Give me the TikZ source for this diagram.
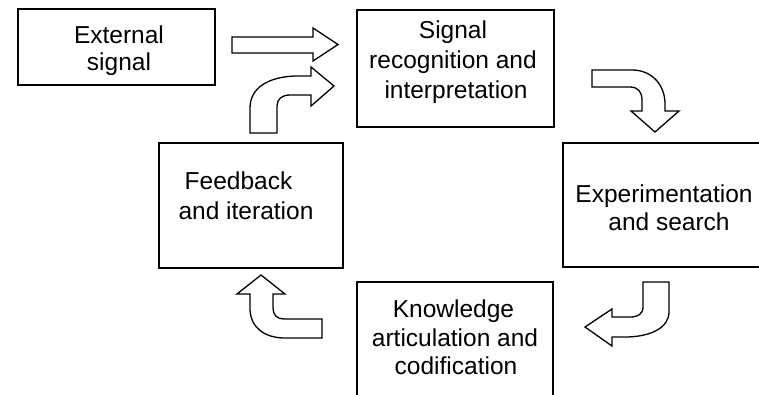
\documentclass[tikz,border=0pt]{standalone}
\usepackage{fontspec}
\setmainfont{Liberation Sans}
\begin{document}
\begin{tikzpicture}[x=1pt,y=-1pt,
  box/.style={draw=black,line width=1.5pt},
  blockarrow/.style={draw=black,fill=white,line width=1.3pt,line join=miter},
  txt/.style={inner sep=0pt,anchor=base,font=\fontsize{24.5}{29}\selectfont}]
\useasboundingbox[fill=white] (0,0) rectangle (759,394);
\begin{scope}
\clip (0,0) rectangle (759,394);
% boxes
\draw[box] (18,9) rectangle (215,85);
\coordinate (ext) at (116.5,47);
\draw[box] (357,10) rectangle (554,127);
\coordinate (sig) at (455.5,68.5);
\draw[box] (563,143) rectangle (790,267);
\coordinate (exp) at (676,205);
\draw[box] (357,282) rectangle (553,430);
\coordinate (kno) at (455,356);
\draw[box] (159,143) rectangle (343,268);
\coordinate (fb) at (251,205.5);
\end{scope}
% texts
\node[txt] (ext1) at (119,43) {External};
\node[txt] (ext2) at (119,70) {signal};
\node[txt] (sig1) at (453,38) {Signal};
\node[txt] (sig2) at (453,68) {recognition and};
\node[txt] (sig3) at (456,98) {interpretation};
\node[txt] (exp1) at (664,202) {Experimentation};
\node[txt] (exp2) at (669,230) {and search};
\node[txt] (kno1) at (453.5,317) {Knowledge};
\node[txt] (kno2) at (455,346) {articulation and};
\node[txt] (kno3) at (456,374) {codification};
\node[txt] (fb1) at (238.5,189) {Feedback};
\node[txt] (fb2) at (246,219) {and iteration};
% block arrows
\draw[blockarrow] (232,37) -- (313,37) -- (313,28) -- (338,44.5) -- (313,61) -- (313,53) -- (232,53) -- cycle;
\draw[blockarrow] (250,133) -- (250,108) .. controls (250,88) and (268,77) .. (295,76) -- (311,76) -- (311,67) -- (334,86) -- (311,106) -- (311,95) -- (290,95) .. controls (282,95) and (277,99) .. (277,106) -- (277,133) -- cycle;
\draw[blockarrow] (592,70) -- (632,70) .. controls (652,70) and (665,85) .. (665,104) -- (665,111) -- (679,111) -- (655,132) -- (631,111) -- (642,111) -- (642,100) .. controls (642,92) and (638,87) .. (630,87) -- (592,87) -- cycle;
\draw[blockarrow] (643,282) -- (669,282) -- (669,312) .. controls (669,328) and (650,337) .. (625,337) -- (612,337) -- (612,346) -- (585,327) -- (612,309) -- (612,317) -- (630,317) .. controls (638,317) and (643,314) .. (643,307) -- cycle;
\draw[blockarrow] (322,319) -- (284,319) .. controls (277,319) and (273,315) .. (273,308) -- (273,294) -- (285,294) -- (261,275) -- (237,294) -- (250,294) -- (250,310) .. controls (251,328) and (265,338) .. (285,338) -- (322,338) -- cycle;
\end{tikzpicture}
\end{document}
